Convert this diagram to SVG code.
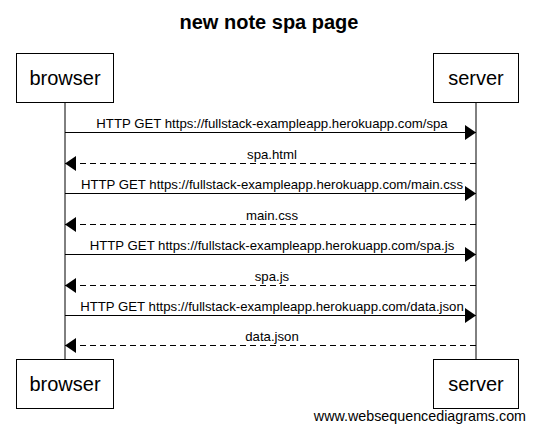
<svg xmlns="http://www.w3.org/2000/svg" width="534" height="432" viewBox="0 0 534 432">
<style>
.box{fill:#fff;stroke:#000;stroke-width:1}
.actor{font-family:"Liberation Sans",Arial,sans-serif;font-size:20px;text-anchor:middle;fill:#000}
.msg{font-family:"Liberation Sans",Arial,sans-serif;font-size:13.2px;text-anchor:middle;fill:#000}
.life{stroke:#000;stroke-width:1}
.line{stroke:#000;stroke-width:1;fill:none}
.dash{stroke-dasharray:6,4}
</style>
<defs>
<marker id="ah" markerWidth="11" markerHeight="15" refX="11" refY="7.5" orient="auto" markerUnits="userSpaceOnUse">
<path d="M0,0 L11,7.5 L0,15 Z" fill="#000"/>
</marker>
</defs>
<rect width="534" height="432" fill="#fff"/>
<text x="269" y="29" font-family="'Liberation Sans',Arial,sans-serif" font-size="20" font-weight="bold" text-anchor="middle">new note spa page</text>
<g id="lifelines">
<line class="life" x1="65" y1="102" x2="65" y2="359"/>
<line class="life" x1="476" y1="102" x2="476" y2="359"/>
</g>
<g id="browser">
<rect class="box" x="16.5" y="53.5" width="97" height="49"/>
<text class="actor" x="65" y="85">browser</text>
</g>
<g id="server">
<rect class="box" x="433.5" y="53.5" width="85" height="49"/>
<text class="actor" x="476" y="85">server</text>
</g>
<g id="browser-bottom">
<rect class="box" x="16.5" y="359.5" width="97" height="49"/>
<text class="actor" x="65" y="391">browser</text>
</g>
<g id="server-bottom">
<rect class="box" x="433.5" y="359.5" width="85" height="49"/>
<text class="actor" x="476" y="391">server</text>
</g>
<g id="connectors">
<line class="line" x1="65" y1="132.5" x2="476" y2="132.5" marker-end="url(#ah)"/>
<text class="msg" x="272" y="128">HTTP GET https://fullstack-exampleapp.herokuapp.com/spa</text>
<line class="line dash" x1="476" y1="163.5" x2="65" y2="163.5" marker-end="url(#ah)"/>
<text class="msg" x="272" y="159">spa.html</text>
<line class="line" x1="65" y1="193.5" x2="476" y2="193.5" marker-end="url(#ah)"/>
<text class="msg" x="272" y="189">HTTP GET https://fullstack-exampleapp.herokuapp.com/main.css</text>
<line class="line dash" x1="476" y1="224.5" x2="65" y2="224.5" marker-end="url(#ah)"/>
<text class="msg" x="272" y="220">main.css</text>
<line class="line" x1="65" y1="254.5" x2="476" y2="254.5" marker-end="url(#ah)"/>
<text class="msg" x="272" y="250">HTTP GET https://fullstack-exampleapp.herokuapp.com/spa.js</text>
<line class="line dash" x1="476" y1="285.5" x2="65" y2="285.5" marker-end="url(#ah)"/>
<text class="msg" x="272" y="281">spa.js</text>
<line class="line" x1="65" y1="315.5" x2="476" y2="315.5" marker-end="url(#ah)"/>
<text class="msg" x="272" y="311">HTTP GET https://fullstack-exampleapp.herokuapp.com/data.json</text>
<line class="line dash" x1="476" y1="345.5" x2="65" y2="345.5" marker-end="url(#ah)"/>
<text class="msg" x="272" y="341">data.json</text>
</g>
<text x="526" y="421" font-family="'Liberation Sans',Arial,sans-serif" font-size="14.3" text-anchor="end">www.websequencediagrams.com</text>
</svg>
